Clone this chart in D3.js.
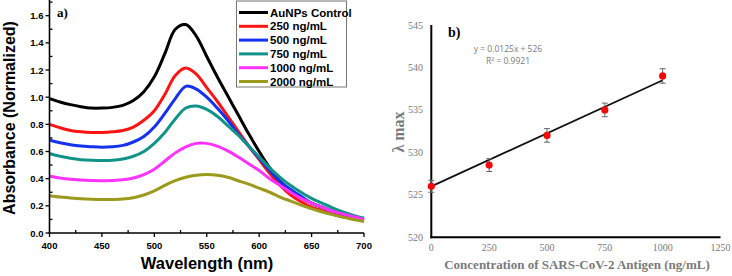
<!DOCTYPE html>
<html><head><meta charset="utf-8">
<script src="https://cdn.jsdelivr.net/npm/d3@7"></script>
<style>body{margin:0;background:#fff}svg{display:block}</style>
</head><body>
<svg id="c" width="732" height="276"></svg>
<script>
// ---------- Panel a data ----------
const wavelengths = d3.range(400, 701, 10);
const seriesNames = ["AuNPs Control","250 ng/mL","500 ng/mL","750 ng/mL","1000 ng/mL","2000 ng/mL"];
const seriesColors = ["#000000","#ff1414","#1432ee","#12938a","#ff33ff","#9c9a1c"];
const absControl = [0.99,0.965,0.945,0.93,0.92,0.92,0.925,0.94,0.975,1.04,1.15,1.32,1.50,1.535,1.45,1.30,1.15,1.01,0.87,0.73,0.60,0.48,0.38,0.31,0.26,0.22,0.19,0.16,0.14,0.12,0.10];
const abs250 = [0.80,0.775,0.755,0.745,0.74,0.74,0.745,0.755,0.78,0.83,0.90,1.02,1.16,1.215,1.17,1.07,0.97,0.86,0.75,0.64,0.54,0.44,0.35,0.28,0.23,0.19,0.165,0.14,0.12,0.105,0.09];
const abs500 = [0.685,0.665,0.65,0.64,0.635,0.632,0.635,0.645,0.67,0.71,0.78,0.88,0.99,1.08,1.06,1.00,0.92,0.83,0.73,0.64,0.55,0.46,0.38,0.32,0.27,0.22,0.19,0.16,0.14,0.12,0.10];
const abs750 = [0.585,0.565,0.55,0.54,0.535,0.533,0.535,0.545,0.565,0.60,0.66,0.74,0.84,0.92,0.935,0.91,0.86,0.79,0.72,0.64,0.56,0.48,0.41,0.35,0.30,0.255,0.22,0.185,0.155,0.13,0.11];
const abs1000 = [0.42,0.405,0.395,0.39,0.387,0.385,0.387,0.392,0.405,0.43,0.47,0.53,0.59,0.635,0.66,0.66,0.64,0.605,0.56,0.51,0.46,0.40,0.35,0.30,0.255,0.22,0.19,0.16,0.14,0.12,0.10];
const abs2000 = [0.275,0.265,0.258,0.252,0.248,0.246,0.247,0.25,0.26,0.28,0.31,0.35,0.385,0.41,0.425,0.43,0.425,0.41,0.385,0.36,0.33,0.30,0.265,0.235,0.205,0.18,0.155,0.135,0.115,0.10,0.085];
const seriesValues = [absControl, abs250, abs500, abs750, abs1000, abs2000];
const xTicksA = [400,450,500,550,600,650,700];
const yTicksA = [0.0,0.2,0.4,0.6,0.8,1.0,1.2,1.4,1.6];

// ---------- Panel b data ----------
const concentrations = [0,250,500,750,1000];
const lambdaMax = [526.0,528.5,532.0,535.0,539.0];
const lambdaErr = [0.7,0.75,0.8,0.8,0.85];
const fitSlope = 0.0125, fitIntercept = 526;
const xTicksB = [0,250,500,750,1000,1250];
const yTicksB = [520,525,530,535,540,545];

const svg = d3.select("#c");

// ================= Panel a =================
const xa = d3.scaleLinear().domain([400,700]).range([49.5,364]);
const ya = d3.scaleLinear().domain([0,1.6]).range([233,15.7]);
const ga = svg.append("g");
const sansB = "'Liberation Sans', Arial, sans-serif";

const line = d3.line().x(d=>xa(d[0])).y(d=>ya(d[1])).curve(d3.curveCatmullRom);
seriesValues.forEach((vals,i)=>{
  ga.append("path").datum(wavelengths.map((w,j)=>[w,vals[j]]))
    .attr("d",line).attr("fill","none").attr("stroke",seriesColors[i])
    .attr("stroke-width",3).attr("stroke-linejoin","round");
});

// axes
const axA = ga.append("g").attr("stroke","#000").attr("stroke-width",1.6);
axA.append("line").attr("x1",xa(400)).attr("x2",xa(400)).attr("y1",ya(0)+0.8).attr("y2",0);
axA.append("line").attr("x1",xa(400)-0.8).attr("x2",xa(700)).attr("y1",ya(0)).attr("y2",ya(0));
d3.range(0,1.71,0.1).forEach((v,k)=>{
  const major = k%2===0;
  axA.append("line").attr("x1",xa(400)-(major?4:0)).attr("x2",xa(400)+(major?0:3))
    .attr("y1",ya(v)).attr("y2",ya(v)).attr("stroke-width",1.3);
});
d3.range(400,701,25).forEach((v,k)=>{
  const major = k%2===0;
  axA.append("line").attr("y1",ya(0)+(major?4:0)).attr("y2",ya(0)-(major?0:3))
    .attr("x1",xa(v)).attr("x2",xa(v)).attr("stroke-width",1.3);
});
yTicksA.forEach(v=>{
  ga.append("text").attr("x",xa(400)-6).attr("y",ya(v)+3.5).attr("text-anchor","end")
    .attr("font-family",sansB).attr("font-weight","bold").attr("font-size",9.5).text(v.toFixed(1));
});
xTicksA.forEach(v=>{
  ga.append("text").attr("x",xa(v)).attr("y",249).attr("text-anchor","middle")
    .attr("font-family",sansB).attr("font-weight","bold").attr("font-size",9.5).text(v);
});
ga.append("text").attr("transform","translate(15,118) rotate(-90)").attr("text-anchor","middle")
  .attr("font-family",sansB).attr("font-weight","bold").attr("font-size",16).text("Absorbance (Normalized)");
ga.append("text").attr("x",207).attr("y",269).attr("text-anchor","middle")
  .attr("font-family",sansB).attr("font-weight","bold").attr("font-size",16.5).text("Wavelength (nm)");
ga.append("text").attr("x",57).attr("y",17).attr("font-family","'Liberation Serif', 'Times New Roman', serif")
  .attr("font-weight","bold").attr("font-size",13).text("a)");

// legend
const lg = ga.append("g");
lg.append("rect").attr("x",236.5).attr("y",1).attr("width",110).attr("height",86)
  .attr("fill","#fff").attr("stroke","#777").attr("stroke-width",1);
seriesNames.forEach((n,i)=>{
  const cy = 12.5 + i*13.8;
  lg.append("line").attr("x1",239).attr("x2",268).attr("y1",cy).attr("y2",cy)
    .attr("stroke",seriesColors[i]).attr("stroke-width",3);
  lg.append("text").attr("x",270).attr("y",cy+4).attr("font-family",sansB).attr("font-weight","bold")
    .attr("font-size",11.5).text(n);
});

// ================= Panel b =================
const xb = d3.scaleLinear().domain([0,1250]).range([431.3,720.5]);
const yb = d3.scaleLinear().domain([520,545]).range([237.3,25]);
const gb = svg.append("g");
const serif = "'Liberation Serif', 'Times New Roman', serif";
const grey = "#7a7a7a";

gb.append("line").attr("x1",xb(0)).attr("x2",xb(0)).attr("y1",yb(520)+1).attr("y2",yb(545))
  .attr("stroke","#000").attr("stroke-width",2);
gb.append("line").attr("x1",xb(0)-1).attr("x2",xb(1250)).attr("y1",yb(520)).attr("y2",yb(520))
  .attr("stroke","#000").attr("stroke-width",2);
yTicksB.forEach(v=>{
  gb.append("text").attr("x",423).attr("y",yb(v)+3.5).attr("text-anchor","end")
    .attr("font-family",serif).attr("font-size",10).attr("fill",grey).text(v);
});
xTicksB.forEach(v=>{
  gb.append("text").attr("x",xb(v)).attr("y",251).attr("text-anchor","middle")
    .attr("font-family",serif).attr("font-size",10).attr("fill",grey).text(v);
});
gb.append("text").attr("transform","translate(404,132) rotate(-90)").attr("text-anchor","middle")
  .attr("font-family",serif).attr("font-weight","bold").attr("font-size",16).attr("fill",grey).text("λ max");
gb.append("text").attr("x",577).attr("y",269).attr("text-anchor","middle")
  .attr("font-family",serif).attr("font-weight","bold").attr("font-size",13).attr("fill",grey)
  .text("Concentration of SARS-CoV-2 Antigen (ng/mL)");
gb.append("text").attr("x",448).attr("y",37).attr("font-family",serif).attr("font-weight","bold")
  .attr("font-size",14).text("b)");
gb.append("text").attr("x",508).attr("y",52).attr("text-anchor","middle").attr("font-family","'Open Sans', 'Liberation Sans', sans-serif")
  .attr("font-size",8.5).attr("fill",grey).text("y = 0.0125x + 526");
gb.append("text").attr("x",508).attr("y",64).attr("text-anchor","middle").attr("font-family","'Open Sans', 'Liberation Sans', sans-serif")
  .attr("font-size",8.5).attr("fill",grey).text("R² = 0.9921");

// fit line
gb.append("line").attr("x1",xb(0)).attr("y1",yb(fitIntercept))
  .attr("x2",xb(1000)).attr("y2",yb(fitIntercept+fitSlope*1000))
  .attr("stroke","#111").attr("stroke-width",1.8);
// error bars
concentrations.forEach((c,i)=>{
  const g = gb.append("g").attr("stroke","#666").attr("stroke-width",1);
  g.append("line").attr("x1",xb(c)).attr("x2",xb(c)).attr("y1",yb(lambdaMax[i]-lambdaErr[i])).attr("y2",yb(lambdaMax[i]+lambdaErr[i]));
  [-1,1].forEach(s=>g.append("line").attr("x1",xb(c)-3).attr("x2",xb(c)+3)
    .attr("y1",yb(lambdaMax[i]+s*lambdaErr[i])).attr("y2",yb(lambdaMax[i]+s*lambdaErr[i])));
});
gb.selectAll("circle.pt").data(concentrations).enter().append("circle")
  .attr("cx",d=>xb(d)).attr("cy",(d,i)=>yb(lambdaMax[i])).attr("r",3.6).attr("fill","#ee0a0a");
</script>
</body></html>
